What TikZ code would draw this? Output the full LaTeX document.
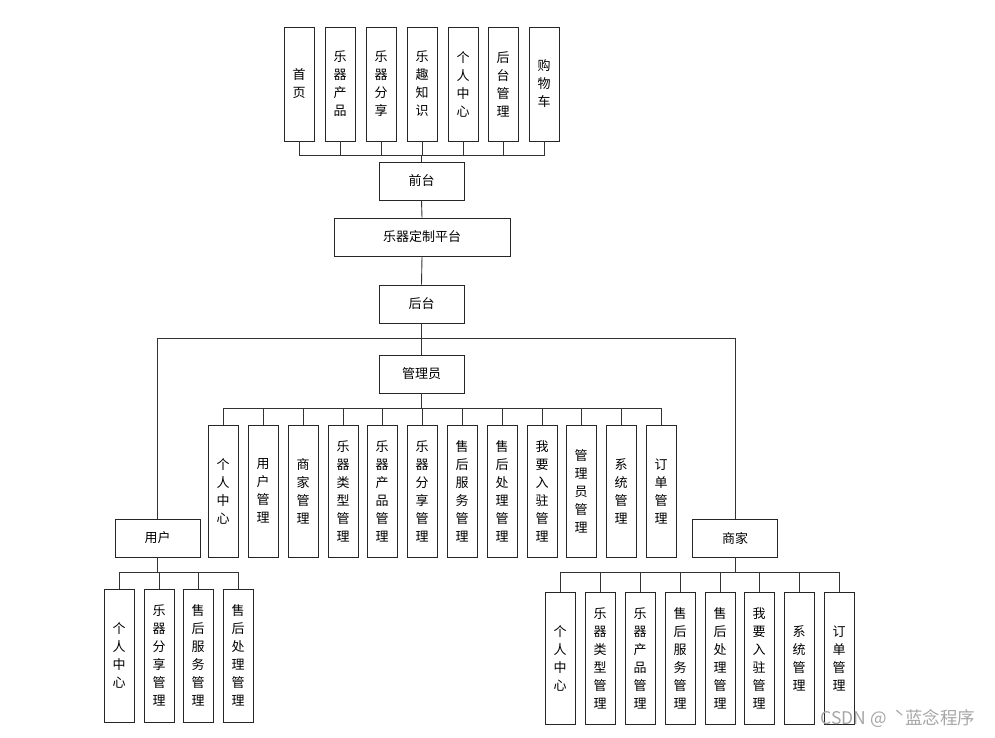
\documentclass[tikz,border=0pt]{standalone}
\usepackage{fontspec}
\newfontfamily\cjk{Noto Sans CJK SC}
\begin{document}
\begin{tikzpicture}[x=1pt,y=-1pt]
\tikzset{
 base/.style={draw=black!85, line width=0.9pt, fill=white, inner sep=0pt, align=center, font=\cjk\fontsize{13}{18}\selectfont},
 vb/.style={base, minimum width=30pt},
 hb/.style={base, minimum width=85pt, minimum height=38pt},
 ln/.style={draw=black!80, line width=0.9pt},
 wm/.style={text=black!35, font=\cjk\fontsize{17.5}{20}\selectfont, inner sep=0pt}
}
\useasboundingbox (0,0) rectangle (995,738);
% top
\node[hb] (qt) at (421.5,181) {前台};
\node[hb, minimum width=176pt] (pt) at (422,237) {乐器定制平台};
\node[hb] (ht) at (421.5,304) {后台};
\node[hb] (gly) at (421.5,374) {管理员};
\node[hb] (yh) at (157.5,538) {用户};
\node[hb] (sj) at (735,538) {商家};
% front children
\node[vb, minimum height=114pt] (t1) at (299,84) {首\\页};
\node[vb, minimum height=114pt] (t2) at (340,84) {乐\\器\\产\\品};
\node[vb, minimum height=114pt] (t3) at (381,84) {乐\\器\\分\\享};
\node[vb, minimum height=114pt] (t4) at (422,84) {乐\\趣\\知\\识};
\node[vb, minimum height=114pt] (t5) at (463,84) {个\\人\\中\\心};
\node[vb, minimum height=114pt] (t6) at (503,84) {后\\台\\管\\理};
\node[vb, minimum height=114pt] (t7) at (544,84) {购\\物\\车};
% admin children
\node[vb, minimum height=132pt] (a1) at (223,491) {个\\人\\中\\心};
\node[vb, minimum height=132pt] (a2) at (263,491) {用\\户\\管\\理};
\node[vb, minimum height=132pt] (a3) at (303,491) {商\\家\\管\\理};
\node[vb, minimum height=132pt] (a4) at (343,491) {乐\\器\\类\\型\\管\\理};
\node[vb, minimum height=132pt] (a5) at (382,491) {乐\\器\\产\\品\\管\\理};
\node[vb, minimum height=132pt] (a6) at (422,491) {乐\\器\\分\\享\\管\\理};
\node[vb, minimum height=132pt] (a7) at (462,491) {售\\后\\服\\务\\管\\理};
\node[vb, minimum height=132pt] (a8) at (502,491) {售\\后\\处\\理\\管\\理};
\node[vb, minimum height=132pt] (a9) at (542,491) {我\\要\\入\\驻\\管\\理};
\node[vb, minimum height=132pt] (a10) at (581,491) {管\\理\\员\\管\\理};
\node[vb, minimum height=132pt] (a11) at (621,491) {系\\统\\管\\理};
\node[vb, minimum height=132pt] (a12) at (661,491) {订\\单\\管\\理};
% user children
\node[vb, minimum height=133pt] (u1) at (119,655.5) {个\\人\\中\\心};
\node[vb, minimum height=133pt] (u2) at (159,655.5) {乐\\器\\分\\享\\管\\理};
\node[vb, minimum height=133pt] (u3) at (198,655.5) {售\\后\\服\\务\\管\\理};
\node[vb, minimum height=133pt] (u4) at (238,655.5) {售\\后\\处\\理\\管\\理};
% merchant children
\node[vb, minimum height=132pt] (m1) at (560,658) {个\\人\\中\\心};
\node[vb, minimum height=132pt] (m2) at (600,658) {乐\\器\\类\\型\\管\\理};
\node[vb, minimum height=132pt] (m3) at (640,658) {乐\\器\\产\\品\\管\\理};
\node[vb, minimum height=132pt] (m4) at (680,658) {售\\后\\服\\务\\管\\理};
\node[vb, minimum height=132pt] (m5) at (720,658) {售\\后\\处\\理\\管\\理};
\node[vb, minimum height=132pt] (m6) at (759,658) {我\\要\\入\\驻\\管\\理};
\node[vb, minimum height=132pt] (m7) at (799,658) {系\\统\\管\\理};
\node[vb, minimum height=132pt] (m8) at (839,658) {订\\单\\管\\理};
% bus coordinates
\coordinate (tb) at (421.5,155);
\coordinate (bb) at (421.5,338);
\coordinate (ab) at (421.5,408);
\coordinate (ub) at (157.5,572);
\coordinate (mb) at (735,572);
% connectors
\foreach \n in {t1,t2,t3,t4,t5,t6,t7} \draw[ln] (\n.south) |- (tb);
\draw[ln] (tb) -- (qt.north);
\draw[ln] (qt.south) -- (pt.north);
\draw[ln] (pt.south) -- (ht.north);
\draw[ln] (ht.south) -- (bb);
\draw[ln] (bb) -- (gly.north);
\draw[ln] (bb) -| (yh.north);
\draw[ln] (bb) -| (sj.north);
\draw[ln] (gly.south) -- (ab);
\foreach \n in {a1,a2,a3,a4,a5,a6,a7,a8,a9,a10,a11,a12} \draw[ln] (ab) -| (\n.north);
\draw[ln] (yh.south) -- (ub);
\foreach \n in {u1,u2,u3,u4} \draw[ln] (ub) -| (\n.north);
\draw[ln] (sj.south) -- (mb);
\foreach \n in {m1,m2,m3,m4,m5,m6,m7,m8} \draw[ln] (mb) -| (\n.north);
% watermark
\node[wm] (wmk) at (898,719) {CSDN @\ \ ˋ蓝念程序};
\end{tikzpicture}
\end{document}
